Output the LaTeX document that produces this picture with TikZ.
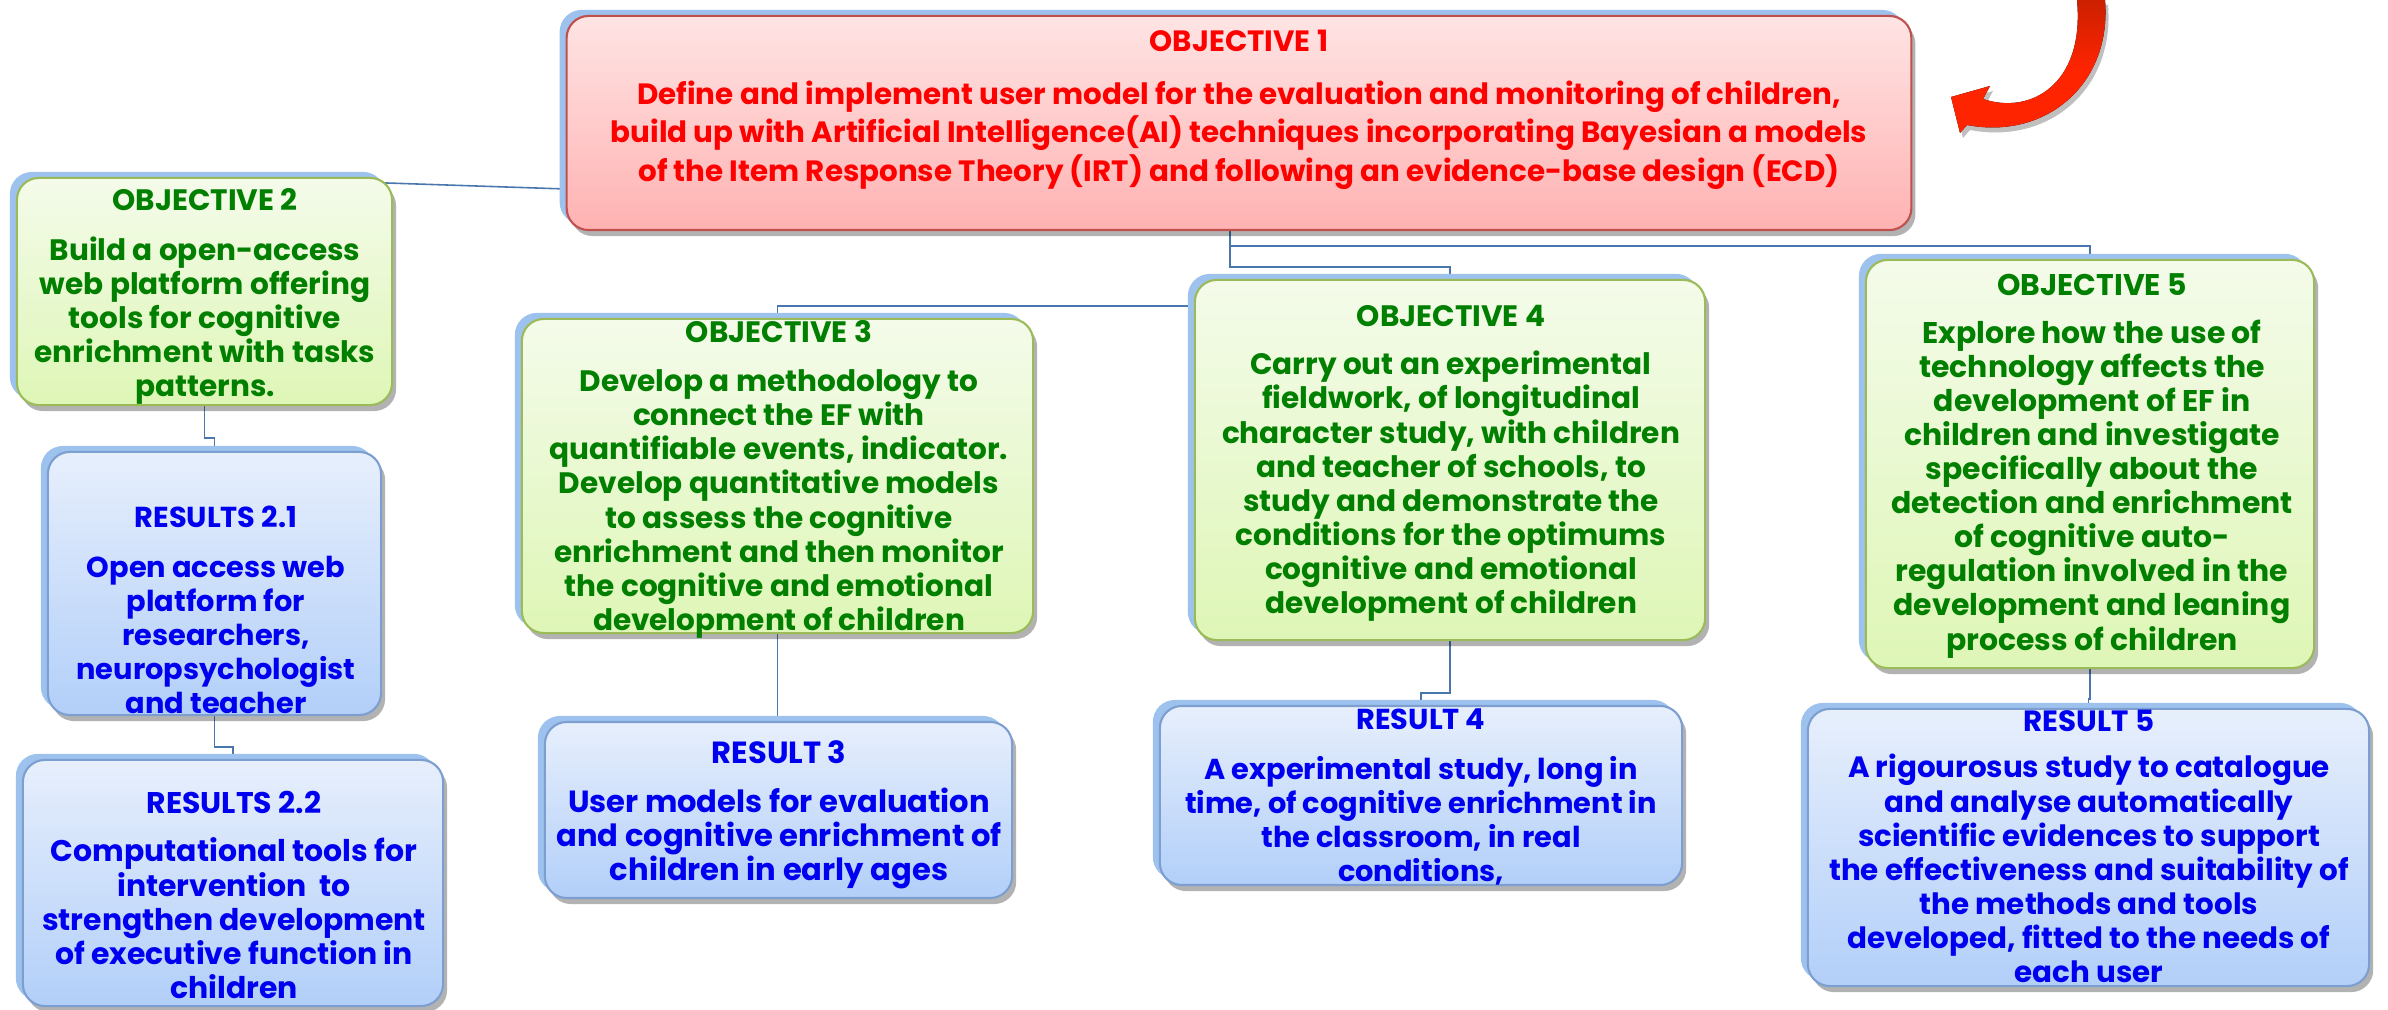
\documentclass[tikz,border=0pt]{standalone}
\usepackage{fontspec}
\newfontfamily\gothic{Poppins}
\usetikzlibrary{shadows,backgrounds}

\definecolor{objred}{HTML}{FF0000}
\definecolor{objgreen}{HTML}{007F00}
\definecolor{resblue}{HTML}{0000F0}
\definecolor{linkblue}{HTML}{4A76AE}
\definecolor{backblue}{HTML}{9EC2EE}
\definecolor{redtop}{HTML}{FFE4E4}
\definecolor{redbot}{HTML}{FFB2B2}
\definecolor{redline}{HTML}{C0504D}
\definecolor{greentop}{HTML}{F4FBEA}
\definecolor{greenbot}{HTML}{DEF6B6}
\definecolor{greenline}{HTML}{9BBB59}
\definecolor{bluetop}{HTML}{E7EFFC}
\definecolor{bluebot}{HTML}{B2CFF9}
\definecolor{blueline}{HTML}{7C9FD0}
\definecolor{arrowred}{HTML}{FF2400}
\definecolor{arrowdark}{HTML}{CC2000}

\tikzset{
  box/.style={rounded corners=0.22cm, line width=0.6pt, inner sep=0pt,
    drop shadow={shadow xshift=0.04cm, shadow yshift=-0.06cm, opacity=0.3, fill=black},
    copy shadow={shadow xshift=-0.07cm, shadow yshift=0.06cm, draw=none, fill=backblue}},
  redbox/.style={box, draw=redline, top color=redtop, bottom color=redbot},
  greenbox/.style={box, draw=greenline, top color=greentop, bottom color=greenbot},
  bluebox/.style={box, draw=blueline, top color=bluetop, bottom color=bluebot},
  boxtext/.style={align=center, inner sep=0pt, anchor=north, fs=8.4},
  fs/.style={font=\gothic\bfseries\fontsize{#1}{9.7}\selectfont},
  link/.style={draw=linkblue, line width=0.45pt},
}

\begin{document}
\begin{tikzpicture}[x=0.01cm, y=-0.01cm]
    \useasboundingbox (0,0) rectangle (2388,1010);
    % boxes
    \node[redbox, minimum width=13.44cm, minimum height=2.14cm] (obj1) at (1239,123) {};
    \node[greenbox, minimum width=3.75cm, minimum height=2.27cm] (obj2) at (204.5,291.5) {};
    \node[bluebox, minimum width=3.33cm, minimum height=2.63cm] (res21) at (214.5,583.5) {};
    \node[bluebox, minimum width=4.20cm, minimum height=2.46cm] (res22) at (233,883) {};
    \node[greenbox, minimum width=5.11cm, minimum height=3.14cm] (obj3) at (777.5,476) {};
    \node[bluebox, minimum width=4.67cm, minimum height=1.76cm] (res3) at (778.5,810) {};
    \node[greenbox, minimum width=5.10cm, minimum height=3.60cm] (obj4) at (1450,460) {};
    \node[bluebox, minimum width=5.22cm, minimum height=1.79cm] (res4) at (1421,795.5) {};
    \node[greenbox, minimum width=4.48cm, minimum height=4.08cm] (obj5) at (2090,464) {};
    \node[bluebox, minimum width=5.61cm, minimum height=2.77cm] (res5) at (2088.5,847.5) {};

    % connectors
    \coordinate (trunk4) at (1230,267);
    \coordinate (trunk5) at (1230,246);
    \coordinate (hook2) at (0,189);
    \coordinate (hook3) at (0,306);
    \begin{pgfonlayer}{background}
    \draw[link] (obj1.south -| trunk4) -- (trunk4) -| (obj4.north);
    \draw[link] (trunk5) -| (obj5.north);
    \draw[link] (obj4.west |- hook3) -| (obj3.north);
    \draw[link] (obj1.west |- hook2) -- (obj2.north);
    \draw[link] (obj2.south) -- ++(0,32) -| (res21.north);
    \draw[link] (res21.south) -- ++(0,31) -| (res22.north);
    \draw[link] (obj3.south) -- (obj3.south |- res3.north);
    \draw[link] (obj4.south) -- ++(0,52) -| (res4.north);
    \draw[link] (obj5.south) -- ++(0,30) -| (res5.north);
    \end{pgfonlayer}

    % red arrow
    \fill[top color=arrowdark, bottom color=arrowred, middle color=arrowred,
      drop shadow={shadow xshift=0.03cm, shadow yshift=-0.05cm, opacity=0.25, fill=black}]
      (1951,97) -- (1990,86) -- (1983,99)
      .. controls (2030,115) and (2085,85) .. (2077,0)
      -- (2105,0)
      .. controls (2112,85) and (2045,140) .. (1967,125)
      -- (1960,133) -- cycle;

    % texts
    \node[boxtext, text=objred, fs=8.35] (t1) at (1239,29) {OBJECTIVE 1\\[5.5pt]
      Define and implement user model for the evaluation and monitoring of children,\\
      build up with Artificial Intelligence(AI) techniques incorporating Bayesian a models\\
      of the Item Response Theory (IRT) and following an evidence-base design (ECD)};
    \node[boxtext, text=objgreen, fs=8.4] (t2) at (205,188) {OBJECTIVE 2\\[4.4pt]
      Build a open-access\\ web platform offering\\ tools for cognitive\\
      enrichment with tasks\\ patterns.};
    \node[boxtext, text=resblue, fs=8.2] (t21) at (216,505) {RESULTS 2.1\\[4.5pt]
      Open access web\\ platform for\\ researchers,\\ neuropsychologist\\ and teacher};
    \node[boxtext, text=resblue, fs=8.5] (t22) at (234,790) {RESULTS 2.2\\[4.2pt]
      Computational tools for\\ intervention~~to\\ strengthen development\\
      of executive function in\\ children};
    \node[boxtext, text=objgreen, fs=8.4] (t3) at (779,320) {OBJECTIVE 3\\[4.2pt]
      Develop a methodology to\\ connect the EF with\\ quantifiable events, indicator.\\
      Develop quantitative models\\ to assess the cognitive\\ enrichment and then monitor\\
      the cognitive and emotional\\ development of children};
    \node[boxtext, text=resblue, fs=8.7] (tr3) at (779,740) {RESULT 3\\[4.2pt]
      User models for evaluation\\ and cognitive enrichment of\\ children in early ages};
    \node[boxtext, text=objgreen, fs=8.4] (t4) at (1451,305) {OBJECTIVE 4\\[3.9pt]
      Carry out an experimental\\ fieldwork, of longitudinal\\ character study, with children\\
      and teacher of schools, to\\ study and demonstrate the\\ conditions for the optimums\\
      cognitive and emotional\\ development of children};
    \node[boxtext, text=resblue, fs=8.2] (tr4) at (1421,708) {RESULT 4\\[4.4pt]
      A experimental study, long in\\ time, of cognitive enrichment in\\
      the classroom, in real\\ conditions,};
    \node[boxtext, text=objgreen, fs=8.5] (t5) at (2092,273) {OBJECTIVE 5\\[3.8pt]
      Explore how the use of\\ technology affects the\\ development of EF in\\
      children and investigate\\ specifically about the\\ detection and enrichment\\
      of cognitive auto-\\ regulation involved in the\\ development and leaning\\
      process of children};
    \node[boxtext, text=resblue, fs=8.35] (tr5) at (2089,709) {RESULT 5\\[3.6pt]
      A rigourosus study to catalogue\\ and analyse automatically\\
      scientific evidences to support\\ the effectiveness and suitability of\\
      the methods and tools\\ developed, fitted to the needs of\\ each user};
\end{tikzpicture}
\end{document}
